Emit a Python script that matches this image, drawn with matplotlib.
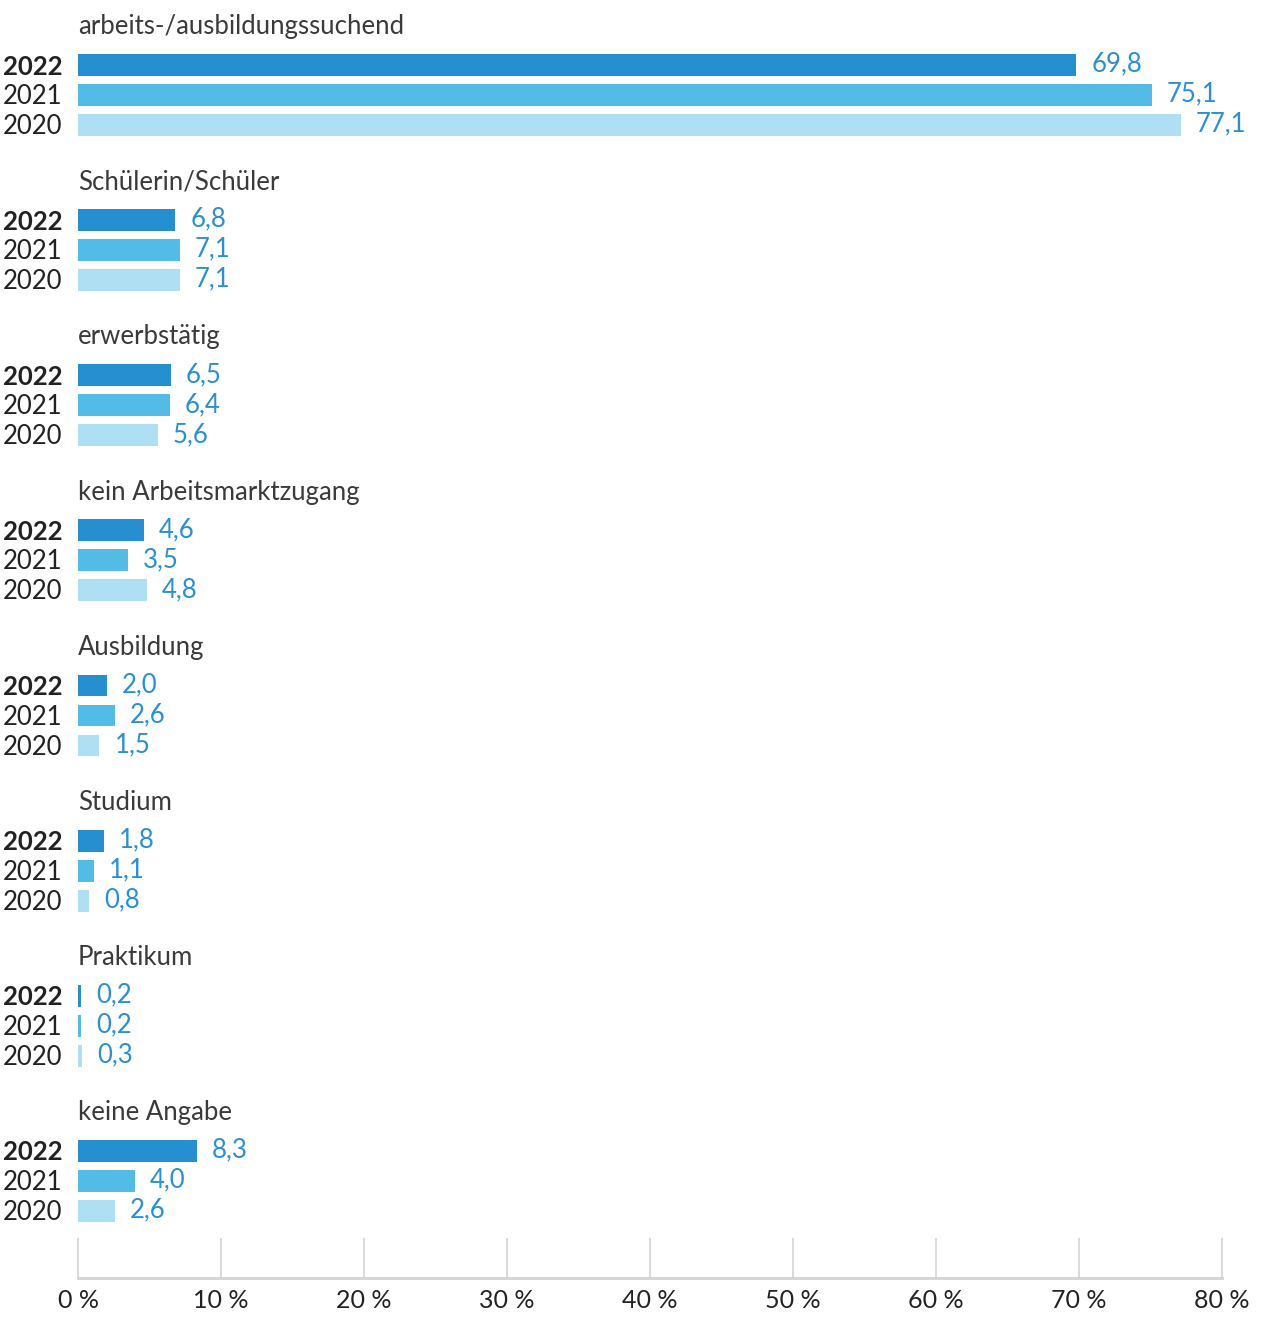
import matplotlib
matplotlib.use("Agg")
import matplotlib.pyplot as plt
from matplotlib.transforms import offset_copy

categories = [
    "arbeits-/ausbildungssuchend",
    "Schülerin/Schüler",
    "erwerbstätig",
    "kein Arbeitsmarktzugang",
    "Ausbildung",
    "Studium",
    "Praktikum",
    "keine Angabe",
]
years = ["2022", "2021", "2020"]
values_2022 = [69.8, 6.8, 6.5, 4.6, 2.0, 1.8, 0.2, 8.3]
values_2021 = [75.1, 7.1, 6.4, 3.5, 2.6, 1.1, 0.2, 4.0]
values_2020 = [77.1, 7.1, 5.6, 4.8, 1.5, 0.8, 0.3, 2.6]
tick_values = [0, 10, 20, 30, 40, 50, 60, 70, 80]

colors = ["#258fd0", "#52bbe6", "#afdff3"]
value_color = "#2a8fd4"
text_color = "#222222"

W, H, DPI = 1268, 1320, 100
fig = plt.figure(figsize=(W / DPI, H / DPI), dpi=DPI)
ax = fig.add_axes([78 / W, 42 / H, (1222 - 78) / W, (H - 42) / H])

group_step = 5.17
bar_h = 0.73
series = [values_2022, values_2021, values_2020]

for i, cat in enumerate(categories):
    base = i * group_step
    ax.text(0, base - 1.28, cat, fontsize=18.5, family="Lato", fontweight="normal",
            color="#3a3a3a", ha="left", va="center")
    for j, (year, vals) in enumerate(zip(years, series)):
        y = base + j
        v = vals[i]
        ax.barh(y, v, height=bar_h, color=colors[j], linewidth=0)
        lab_tr = offset_copy(ax.transData, fig=fig, x=-16, y=0, units="dots")
        ax.text(0, y + 0.05, year, transform=lab_tr, fontsize=18.5, family="Lato",
                fontweight="bold" if j == 0 else "normal", color=text_color,
                ha="right", va="center")
        val_tr = offset_copy(ax.transData, fig=fig, x=15, y=0, units="dots")
        ax.text(v, y - 0.03, f"{v:.1f}".replace(".", ","), transform=val_tr,
                fontsize=18.5, family="Lato", fontweight="normal", color=value_color,
                ha="left", va="center")

ax.set_xlim(0, 80)
ax.set_ylim(40.43, -2.17)
ax.set_xticks(tick_values)
ax.set_xticklabels([f"{t} %" for t in tick_values], fontsize=18, family="Lato",
                   fontweight="normal", color=text_color)
ax.tick_params(axis="x", direction="in", length=29, width=1.2, color="#d4d4d4", pad=8)
ax.set_yticks([])
for s in ["top", "right", "left"]:
    ax.spines[s].set_visible(False)
ax.spines["bottom"].set_color("#d4d4d4")
ax.spines["bottom"].set_linewidth(2)
ax.patch.set_visible(False)

fig.savefig("out.png", dpi=DPI)
